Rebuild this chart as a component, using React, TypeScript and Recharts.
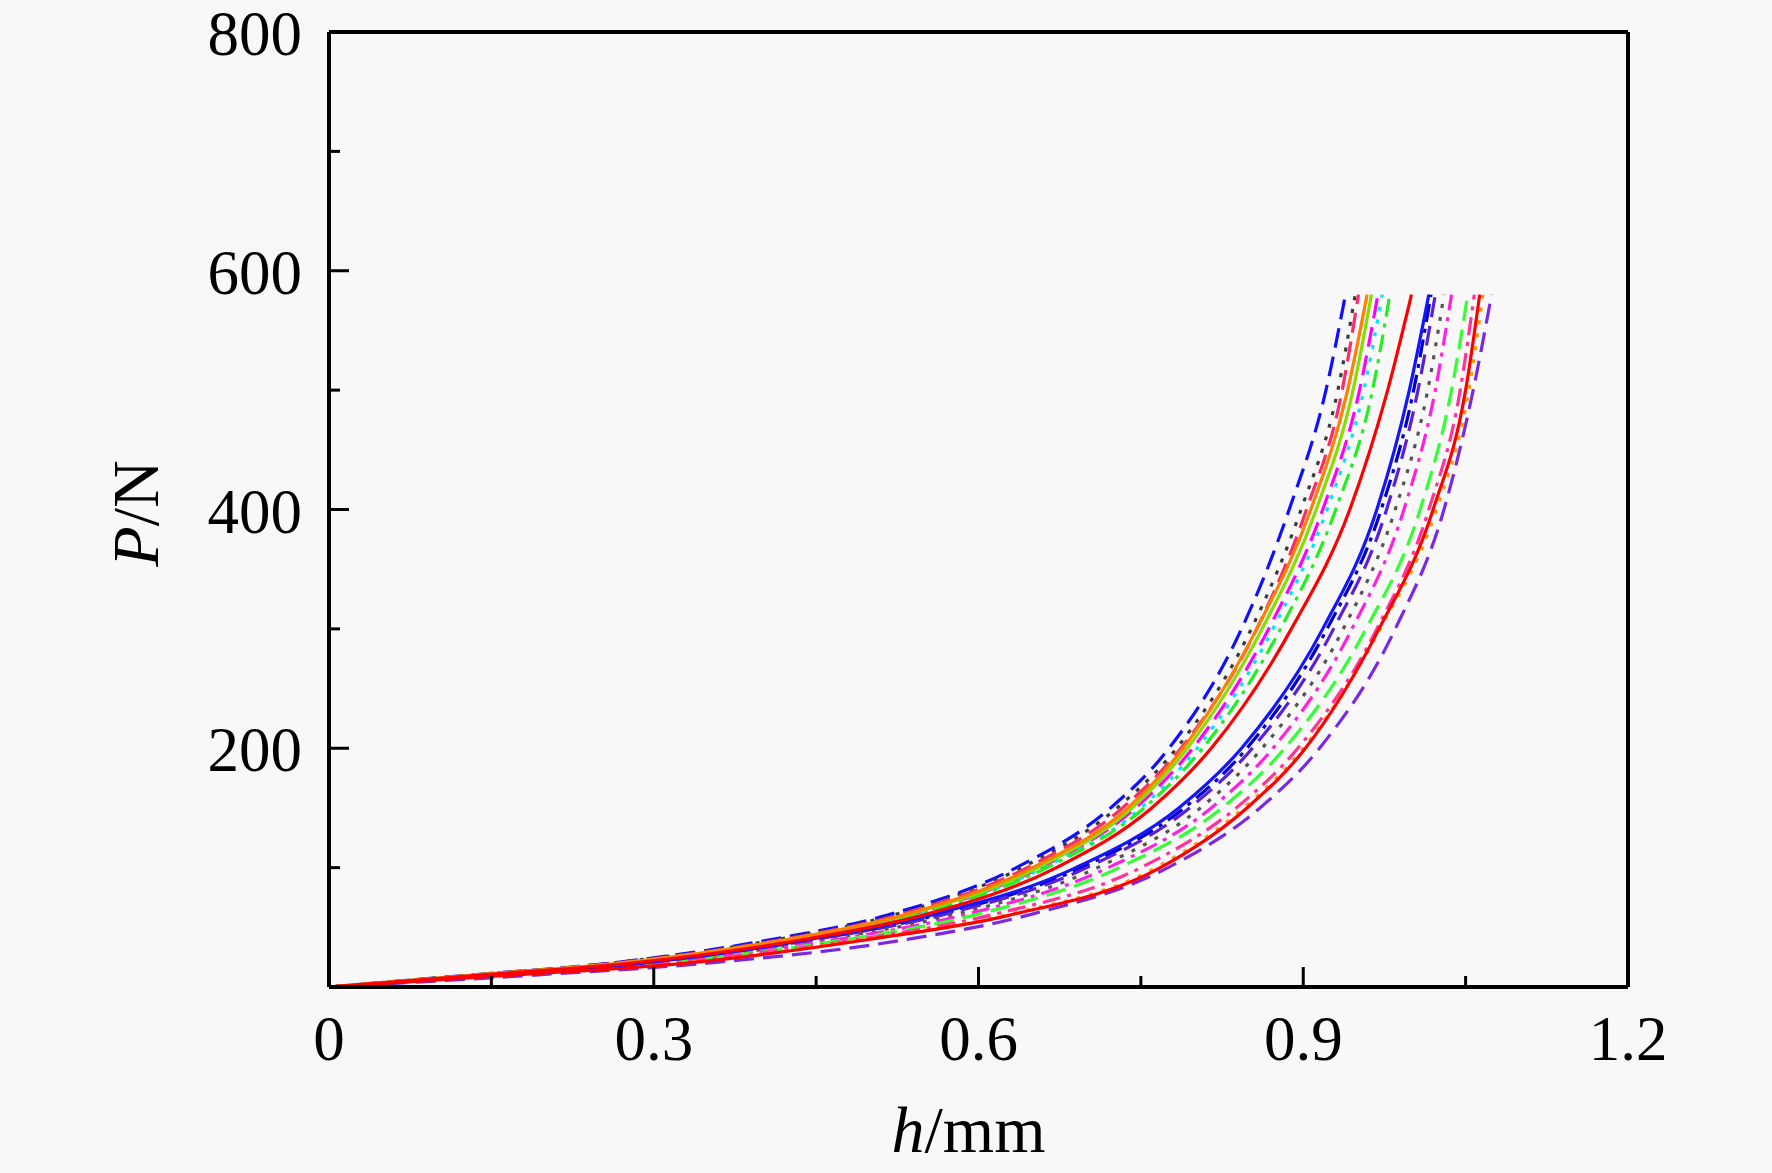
import React from 'react'
import { LineChart, Line, XAxis, YAxis, ReferenceLine } from 'recharts'

// load levels shared by every curve (N)
const loadLevels = [0, 10, 20, 40, 60, 100, 150, 200, 300, 400, 500, 580]

// displacement h (mm) of each curve at the load levels above
const blueDash = [0, 0.13, 0.26, 0.41, 0.515, 0.635, 0.722, 0.776, 0.843, 0.887, 0.921, 0.939]
const greyDot = [0, 0.13, 0.26, 0.415, 0.52, 0.64, 0.728, 0.783, 0.852, 0.898, 0.932, 0.948]
const roseDash = [0, 0.135, 0.265, 0.42, 0.525, 0.645, 0.733, 0.787, 0.857, 0.903, 0.936, 0.951]
const orangeSolid = [0, 0.135, 0.27, 0.425, 0.53, 0.65, 0.738, 0.789, 0.857, 0.907, 0.941, 0.959]
const limeSolid = [0, 0.135, 0.27, 0.425, 0.532, 0.655, 0.742, 0.793, 0.862, 0.912, 0.946, 0.963]
const magentaDash = [0, 0.14, 0.275, 0.43, 0.535, 0.657, 0.745, 0.798, 0.868, 0.918, 0.952, 0.969]
const cyanDot = [0, 0.14, 0.275, 0.43, 0.538, 0.66, 0.75, 0.802, 0.872, 0.922, 0.956, 0.973]
const greenDashDot = [0, 0.14, 0.28, 0.435, 0.54, 0.663, 0.753, 0.807, 0.879, 0.93, 0.964, 0.98]
const redSolidA = [0, 0.14, 0.28, 0.44, 0.548, 0.672, 0.76, 0.815, 0.889, 0.943, 0.978, 1.0]
const blueSolid = [0, 0.145, 0.29, 0.445, 0.555, 0.69, 0.785, 0.843, 0.918, 0.968, 0.998, 1.016]
const navyDashDot = [0, 0.145, 0.29, 0.45, 0.56, 0.695, 0.79, 0.848, 0.922, 0.972, 1.002, 1.018]
const violetDash = [0, 0.145, 0.29, 0.45, 0.565, 0.7, 0.795, 0.853, 0.928, 0.977, 1.006, 1.022]
const darkDot = [0, 0.15, 0.3, 0.46, 0.575, 0.71, 0.805, 0.862, 0.937, 0.985, 1.015, 1.03]
const pinkDashDot = [0, 0.15, 0.3, 0.47, 0.585, 0.72, 0.815, 0.872, 0.945, 0.993, 1.022, 1.037]
const greenDash = [0, 0.155, 0.305, 0.48, 0.595, 0.73, 0.825, 0.883, 0.958, 1.008, 1.037, 1.052]
const hotPinkDashDot = [0, 0.16, 0.31, 0.49, 0.61, 0.75, 0.838, 0.895, 0.968, 1.016, 1.045, 1.058]
const redSolidB = [0, 0.17, 0.33, 0.5, 0.628, 0.768, 0.848, 0.902, 0.97, 1.02, 1.05, 1.063]
const orangeDot = [0, 0.165, 0.325, 0.495, 0.623, 0.764, 0.845, 0.9, 0.971, 1.023, 1.053, 1.066]
const purpleDash = [0, 0.19, 0.35, 0.535, 0.645, 0.775, 0.86, 0.915, 0.985, 1.03, 1.057, 1.074]

const xTicks = [0, 0.15, 0.3, 0.45, 0.6, 0.75, 0.9, 1.05, 1.2]
const xLabels = ['0', '', '0.3', '', '0.6', '', '0.9', '', '1.2']
const yTicks = [0, 100, 200, 300, 400, 500, 600, 700, 800]
const yLabels = ['', '', '200', '', '400', '', '600', '', '800']

const DASH = '20 9'
const DOT = '4 9'
const DASHDOT = '18 7 4 7'

const curves = [
  { name: 'c1', h: blueDash, color: '#1010ff', dash: DASH },
  { name: 'c2', h: greyDot, color: '#3a3a3a', dash: DOT },
  { name: 'c3', h: roseDash, color: '#ff2a6a', dash: DASH },
  { name: 'c4', h: magentaDash, color: '#ff00ff', dash: DASH },
  { name: 'c5', h: cyanDot, color: '#00e5ff', dash: DOT },
  { name: 'c6', h: greenDashDot, color: '#22ee22', dash: DASHDOT },
  { name: 'c7', h: navyDashDot, color: '#0000c8', dash: DASHDOT },
  { name: 'c8', h: violetDash, color: '#5a20d8', dash: DASH },
  { name: 'c9', h: darkDot, color: '#555555', dash: DOT },
  { name: 'c10', h: pinkDashDot, color: '#ff22dd', dash: DASHDOT },
  { name: 'c11', h: greenDash, color: '#33ff33', dash: DASH },
  { name: 'c12', h: hotPinkDashDot, color: '#ff3399', dash: DASHDOT },
  { name: 'c13', h: orangeDot, color: '#ff9900', dash: DOT },
  { name: 'c14', h: purpleDash, color: '#7a28e8', dash: DASH },
  { name: 'c15', h: blueSolid, color: '#1414ff', dash: undefined },
  { name: 'c16', h: limeSolid, color: '#88dd00', dash: undefined },
  { name: 'c17', h: orangeSolid, color: '#ff8000', dash: undefined },
  { name: 'c18', h: redSolidA, color: '#ff0000', dash: undefined },
  { name: 'c19', h: redSolidB, color: '#ff0000', dash: undefined }
]

const FONT = "'Liberation Serif', 'Times New Roman', serif"

function XTick(props) {
  const { x, y, index } = props
  const major = index % 2 === 0
  return (
    <g>
      <line x1={x} x2={x} y1={y} y2={y - (major ? 20 : 11)} stroke="#000" strokeWidth={3} />
      <text x={x} y={y + 73} textAnchor="middle" fontSize={63} fontFamily={FONT} fill="#000">
        {xLabels[index]}
      </text>
    </g>
  )
}

function YTick(props) {
  const { x, y, index } = props
  const major = index % 2 === 0
  return (
    <g>
      <line x1={x} x2={x + (major ? 20 : 11)} y1={y} y2={y} stroke="#000" strokeWidth={3} />
      <text x={x - 27} y={y + 23} textAnchor="end" fontSize={63} fontFamily={FONT} fill="#000">
        {yLabels[index]}
      </text>
    </g>
  )
}

export default function App() {
  return (
    <div style={{ position: 'absolute', left: 0, top: 0, width: 1772, height: 1173, background: '#f8f8f8' }}>
      <LineChart width={1772} height={1173} margin={{ top: 32, right: 144, bottom: 86, left: 229 }}>
        <XAxis
          dataKey="h"
          type="number"
          domain={[0, 1.2]}
          ticks={xTicks}
          interval={0}
          height={100}
          tickSize={0}
          tickMargin={0}
          tickLine={false}
          tick={(p) => <XTick {...p} />}
          axisLine={{ stroke: '#000', strokeWidth: 4 }}
          label={{
            content: (p) => {
              const vb = p.viewBox
              return (
                <text x={vb.x + vb.width / 2 - 10} y={vb.y + 165} textAnchor="middle" fontSize={66} fontFamily={FONT} fill="#000">
                  <tspan fontStyle="italic">h</tspan>/mm
                </text>
              )
            }
          }}
        />
        <YAxis
          dataKey="p"
          type="number"
          domain={[0, 800]}
          ticks={yTicks}
          interval={0}
          width={100}
          tickSize={0}
          tickMargin={0}
          tickLine={false}
          tick={(p) => <YTick {...p} />}
          axisLine={{ stroke: '#000', strokeWidth: 4 }}
          label={{
            content: (p) => {
              const vb = p.viewBox
              const cx = 158
              const cy = vb.y + vb.height / 2 + 4
              return (
                <text x={cx} y={cy} transform={`rotate(-90, ${cx}, ${cy})`} textAnchor="middle" fontSize={66} fontFamily={FONT} fill="#000">
                  <tspan fontStyle="italic">P</tspan>/N
                </text>
              )
            }
          }}
        />
        <ReferenceLine y={800} stroke="#000" strokeWidth={4} />
        <ReferenceLine x={1.2} stroke="#000" strokeWidth={4} />
        {curves.map((c) => (
          <Line
            key={c.name}
            name={c.name}
            data={loadLevels.map((p, i) => ({ h: c.h[i], p }))}
            dataKey="p"
            type="monotone"
            stroke={c.color}
            strokeWidth={3.2}
            strokeDasharray={c.dash}
            dot={false}
            activeDot={false}
            isAnimationActive={false}
          />
        ))}
      </LineChart>
    </div>
  )
}
